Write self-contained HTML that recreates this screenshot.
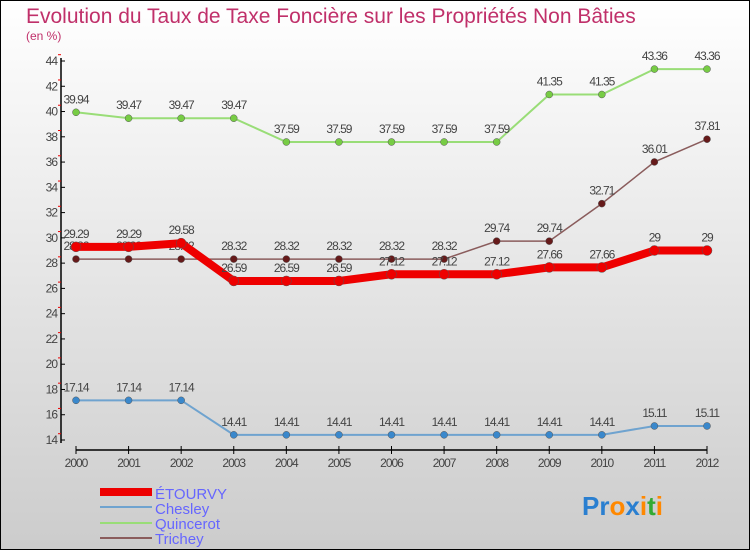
<!DOCTYPE html>
<html><head><meta charset="utf-8"><style>
body{margin:0;width:750px;height:550px;overflow:hidden;font-family:"Liberation Sans",sans-serif}
#wrap{position:absolute;left:0;top:0;width:748px;height:548px;border:1px solid #000;background:linear-gradient(#ffffff,#cccccc)}
</style></head><body>
<div id="wrap">
<svg width="750" height="550" style="position:absolute;left:-1px;top:-1px">
<text x="26" y="23" font-size="21" fill="#c0306a">Evolution du Taux de Taxe Foncière sur les Propriétés Non Bâties</text>
<text x="26" y="40" font-size="12" fill="#c0306a">(en %)</text>
<g id="axes"></g><g id="series"></g>
<g>
<rect x="100" y="488" width="52" height="8" fill="#ee0000"/>
<text x="155" y="499" font-size="15" fill="#6666ff">ÉTOURVY</text>
<rect x="100" y="506" width="52" height="2" fill="#6fa3cf"/>
<text x="155" y="514" font-size="15" fill="#6666ff">Chesley</text>
<rect x="100" y="522" width="52" height="2" fill="#99dd77"/>
<text x="155" y="529" font-size="15" fill="#6666ff">Quincerot</text>
<rect x="100" y="537" width="52" height="2" fill="#8a5c5c"/>
<text x="155" y="544" font-size="15" fill="#6666ff">Trichey</text>
</g>
<text x="582" y="515" font-size="26" font-weight="bold"><tspan fill="#2a7fd0">Pr</tspan><tspan fill="#ff8800">o</tspan><tspan fill="#2a7fd0">x</tspan><tspan fill="#ff8800">i</tspan><tspan fill="#33aa33">t</tspan><tspan fill="#ff8800">i</tspan></text>
</svg></div>
<script>
const years=[2000,2001,2002,2003,2004,2005,2006,2007,2008,2009,2010,2011,2012];
const yTicks=[14,16,18,20,22,24,26,28,30,32,34,36,38,40,42,44];
const etourvy=[29.29,29.29,29.58,26.59,26.59,26.59,27.12,27.12,27.12,27.66,27.66,29,29];
const chesley=[17.14,17.14,17.14,14.41,14.41,14.41,14.41,14.41,14.41,14.41,14.41,15.11,15.11];
const quincerot=[39.94,39.47,39.47,39.47,37.59,37.59,37.59,37.59,37.59,41.35,41.35,43.36,43.36];
const trichey=[28.32,28.32,28.32,28.32,28.32,28.32,28.32,28.32,29.74,29.74,32.71,36.01,37.81];
const NS="http://www.w3.org/2000/svg";
const x0=76,x1=707,yB=440,yT=61,vMin=14,vMax=44;
const xs=i=>x0+(x1-x0)*i/(years.length-1);
const ys=v=>yB-(v-vMin)*(yB-yT)/(vMax-vMin);
function mk(t,a,p){const e=document.createElementNS(NS,t);for(const k in a)e.setAttribute(k,a[k]);p.appendChild(e);return e;}
const ax=document.getElementById('axes');
let l=mk('line',{x1:61,y1:yT-3,x2:61,y2:yB+3,stroke:'#000','stroke-width':1.5},ax);


yTicks.forEach(v=>{const y=ys(v);
 mk('line',{x1:61,y1:y,x2:65,y2:y,stroke:'#000'},ax);
 mk('line',{x1:58,y1:y-6.3,x2:61,y2:y-6.3,stroke:'#e00'},ax);
 const t=mk('text',{x:57,y:y+4,'font-size':12,fill:'#444','text-anchor':'end','letter-spacing':'-1'},ax);t.textContent=v;
 
 });
l=mk('line',{x1:x0,y1:450,x2:x1,y2:450,stroke:'#000','stroke-width':1.5},ax);


years.forEach((yr,i)=>{const x=xs(i);
 mk('line',{x1:x,y1:446,x2:x,y2:454,stroke:'#000'},ax);
 const t=mk('text',{x:x,y:467,'font-size':12,fill:'#444','text-anchor':'middle','letter-spacing':'-1'},ax);t.textContent=yr;
 
 });
const sg=document.getElementById('series');
function draw(name,vals,color,w,dot,dotStroke){
 const g=mk('g',{},sg);
 
 
 mk('polyline',{points:vals.map((v,i)=>xs(i)+','+ys(v)).join(' '),fill:'none',stroke:color,'stroke-width':w},g);
 vals.forEach((v,i)=>{
  const c=mk('circle',{cx:xs(i),cy:ys(v),r:dot,fill:dotStroke,stroke:'#555','stroke-width':0.5},g);
  
  
  const t=mk('text',{x:xs(i),y:ys(v)-9,'font-size':12,fill:'#444','text-anchor':'middle','letter-spacing':'-1'},g);t.textContent=v;
  
  });
}
draw('quincerot',quincerot,'#99dd77',2,3.5,'#77cc44');
draw('trichey',trichey,'#8a5c5c',1.5,3.5,'#661a1a');
draw('chesley',chesley,'#6fa3cf',2,3.5,'#3a88cc');
draw('etourvy',etourvy,'#ee0000',8,5,'#ee0000');
</script>
</body></html>
